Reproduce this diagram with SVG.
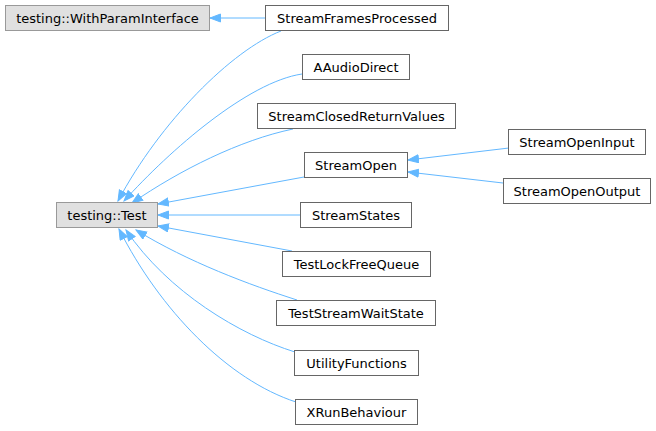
<svg xmlns="http://www.w3.org/2000/svg" width="656" height="431" viewBox="0 0 656 431">
<style>
rect.b{fill:#e0e0e0;stroke:#999999;stroke-width:1}
rect.w{fill:#ffffff;stroke:#666666;stroke-width:1}
text{font-family:"DejaVu Sans",sans-serif;font-size:13px;fill:#000000;text-anchor:middle}
path.e{fill:none;stroke:#63b8ff;stroke-width:1;marker-end:url(#ah)}
</style>
<defs>
<marker id="ah" markerUnits="userSpaceOnUse" markerWidth="13" markerHeight="10" refX="11" refY="4.5" orient="auto">
<path d="M0.5,0.5 L11,4.5 L0.5,8.5 z" fill="#63b8ff" stroke="#63b8ff" stroke-width="1"/>
</marker>
</defs>
<rect width="656" height="431" fill="#ffffff"/>
<g id="edges">
<path class="e" d="M265,18 L210,18"/>
<path class="e" d="M281,31 C232,50 160,122 118,201"/>
<path class="e" d="M302,74 C248,82 170,150 124,201"/>
<path class="e" d="M293,129 C240,140 180,170 132,203"/>
<path class="e" d="M304,177 L158,204"/>
<path class="e" d="M300,215 L158,215"/>
<path class="e" d="M292,251 L158,226"/>
<path class="e" d="M297,300 C250,285 188,262 136,230"/>
<path class="e" d="M295,352 C240,335 168,292 126,230"/>
<path class="e" d="M296,402 C228,380 160,310 119,229"/>
<path class="e" d="M509,148 L408,160"/>
<path class="e" d="M503,183 L408,172"/>
</g>
<g id="node-withparam"><rect class="b" x="5.5" y="5.5" width="204" height="25"/><text x="107.5" y="22.5">testing::WithParamInterface</text></g>
<g id="node-test"><rect class="b" x="56.5" y="202.5" width="101" height="25"/><text x="107" y="219.5">testing::Test</text></g>
<g id="node-sfp"><rect class="w" x="265.5" y="5.5" width="183" height="25"/><text x="357" y="22.5">StreamFramesProcessed</text></g>
<g id="node-aad"><rect class="w" x="302.5" y="54.5" width="107" height="25"/><text x="356" y="71.5">AAudioDirect</text></g>
<g id="node-scrv"><rect class="w" x="257.5" y="103.5" width="198" height="25"/><text x="356.5" y="120.5">StreamClosedReturnValues</text></g>
<g id="node-so"><rect class="w" x="304.5" y="152.5" width="103" height="25"/><text x="356" y="169.5">StreamOpen</text></g>
<g id="node-ss"><rect class="w" x="300.5" y="202.5" width="111" height="25"/><text x="356" y="219.5">StreamStates</text></g>
<g id="node-soi"><rect class="w" x="508.5" y="129.5" width="137" height="25"/><text x="577" y="146.5">StreamOpenInput</text></g>
<g id="node-soo"><rect class="w" x="503.5" y="178.5" width="147" height="25"/><text x="577" y="195.5">StreamOpenOutput</text></g>
<g id="node-tlfq"><rect class="w" x="282.5" y="251.5" width="148" height="25"/><text x="356.5" y="268.5">TestLockFreeQueue</text></g>
<g id="node-tsws"><rect class="w" x="276.5" y="300.5" width="159" height="25"/><text x="356" y="317.5">TestStreamWaitState</text></g>
<g id="node-uf"><rect class="w" x="294.5" y="350.5" width="124" height="25"/><text x="356.5" y="367.5">UtilityFunctions</text></g>
<g id="node-xrb"><rect class="w" x="295.5" y="399.5" width="122" height="25"/><text x="356.5" y="416.5">XRunBehaviour</text></g>
</svg>
